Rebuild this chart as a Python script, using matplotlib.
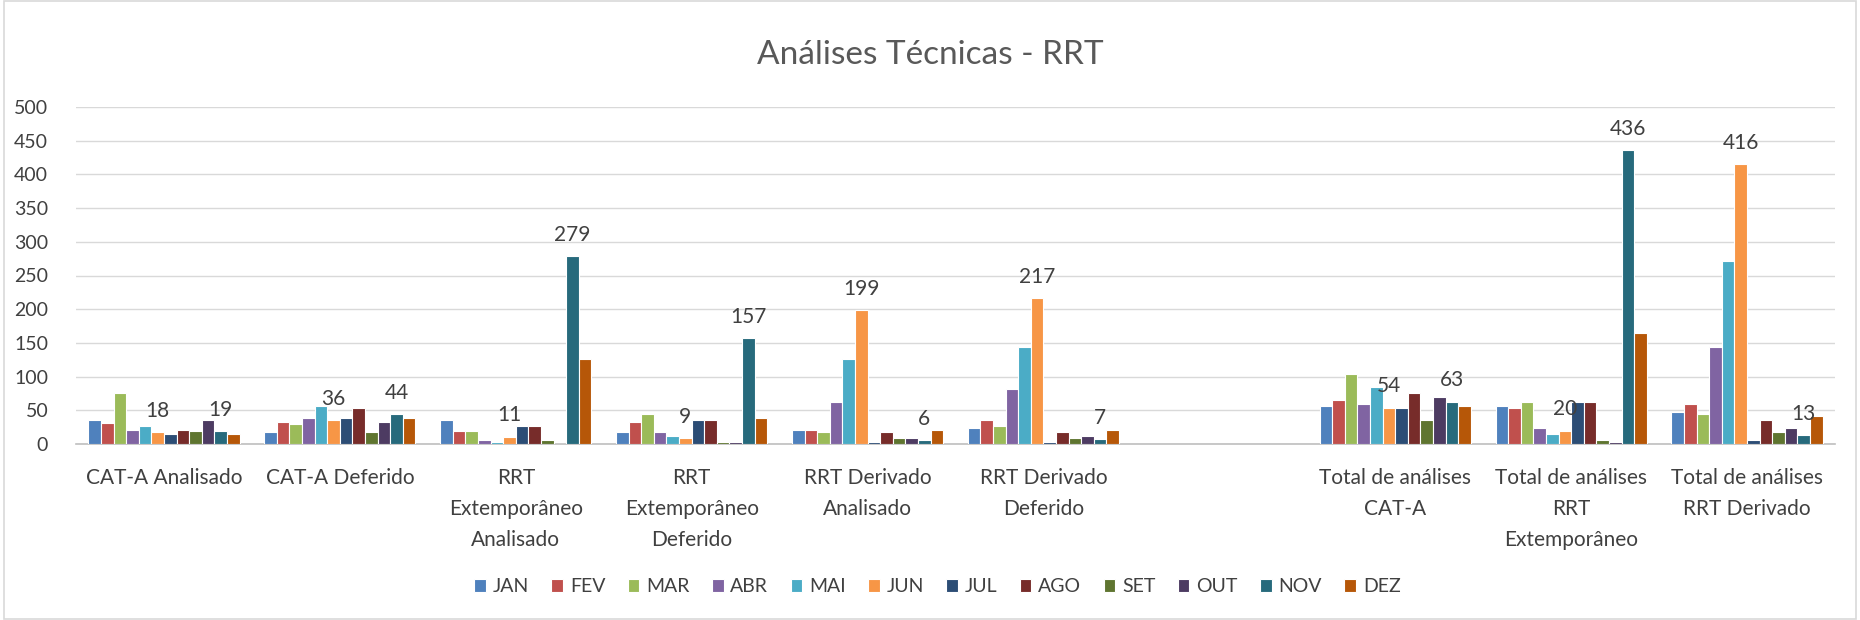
import numpy as np
import matplotlib
matplotlib.use("Agg")
import matplotlib.pyplot as plt
from matplotlib.patches import Rectangle

plt.rcParams['font.family'] = ['Lato', 'DejaVu Sans']

nan = np.nan
categories = ["CAT-A Analisado", "CAT-A Deferido", "RRT\nExtemporâneo\nAnalisado",
              "RRT\nExtemporâneo\nDeferido", "RRT Derivado\nAnalisado",
              "RRT Derivado\nDeferido", "", "Total de análises\nCAT-A",
              "Total de análises\nRRT\nExtemporâneo", "Total de análises\nRRT Derivado"]
months = ["JAN", "FEV", "MAR", "ABR", "MAI", "JUN", "JUL", "AGO", "SET", "OUT", "NOV", "DEZ"]

JAN = [36, 18, 36, 18, 21, 24, nan, 57, 57, 48]
FEV = [31, 33, 19, 33, 21, 36, nan, 66, 54, 60]
MAR = [75, 30, 19, 45, 18, 27, nan, 104, 63, 45]
ABR = [21, 39, 6, 18, 63, 81, nan, 60, 24, 144]
MAI = [27, 57, 3, 12, 126, 144, nan, 84, 15, 271]
JUN = [18, 36, 11, 9, 199, 217, nan, 54, 20, 416]
JUL = [15, 39, 27, 36, 3, 3, nan, 54, 63, 6]
AGO = [21, 54, 27, 36, 18, 18, nan, 75, 63, 36]
SET = [19, 18, 6, 3, 9, 9, nan, 36, 6, 18]
OUT = [36, 33, 0, 3, 9, 12, nan, 69, 3, 24]
NOV = [19, 44, 279, 157, 6, 7, nan, 63, 436, 13]
DEZ = [15, 39, 126, 39, 21, 21, nan, 57, 164, 42]
series = [JAN, FEV, MAR, ABR, MAI, JUN, JUL, AGO, SET, OUT, NOV, DEZ]
labeled = ["JUN", "NOV"]

colors = ["#4F81BD", "#C0504D", "#9BBB59", "#8064A2", "#4BACC6", "#F79646",
          "#2C4D75", "#772C2A", "#5F7530", "#4D3B62", "#276A7C", "#B65708"]

fig = plt.figure(figsize=(18.6, 6.2), dpi=100)
ax = fig.add_axes([76/1860, 1-444/620, (1835-76)/1860, (444-107)/620])

x = np.arange(len(categories))
n = len(series)
group = 0.86
w = group / n
for i, (m, vals, c) in enumerate(zip(months, series, colors)):
    pos = x - group/2 + w*(i+0.5)
    ax.bar(pos, vals, width=w, color=c, edgecolor="white", linewidth=0.8, label=m, zorder=3)
    if m in labeled:
        for xp, v in zip(pos, vals):
            if not np.isnan(v):
                ax.annotate(f"{int(v)}", (xp, v), xytext=(0, 8), textcoords="offset points",
                            ha="center", va="bottom", fontsize=15, color="#404040", zorder=4)

ax.set_xlim(-0.5, len(categories)-0.5)
ax.set_ylim(0, 500)
ax.set_yticks(np.arange(0, 501, 50))
ax.yaxis.grid(True, color="#d9d9d9", linewidth=1, zorder=0)
ax.set_axisbelow(True)
for s in ["top", "right", "left"]:
    ax.spines[s].set_visible(False)
ax.spines["bottom"].set_color("#bfbfbf")
ax.spines["bottom"].set_linewidth(1.2)
ax.set_xticks(x)
ax.set_xticklabels(categories, fontsize=15, color="#404040", linespacing=1.7, va="top")
ax.tick_params(axis="x", length=0, pad=17)
ax.tick_params(axis="y", length=0, pad=20, labelsize=14, labelcolor="#404040")

fig.text(0.5, 1-55/620, "Análises Técnicas - RRT", ha="center", va="center",
         fontsize=24, color="#595959")

fig.legend(loc="center", bbox_to_anchor=(0.504, 1-587/620), ncol=12, frameon=False,
           fontsize=14, handlelength=0.6, handleheight=0.6, handletextpad=0.35,
           columnspacing=1.15, labelcolor="#404040")

fig.add_artist(Rectangle((0.002, 0.002), 0.996, 0.996, transform=fig.transFigure,
                         fill=False, edgecolor="#d9d9d9", linewidth=1.2))

fig.savefig("out.png", dpi=100, facecolor="white")
